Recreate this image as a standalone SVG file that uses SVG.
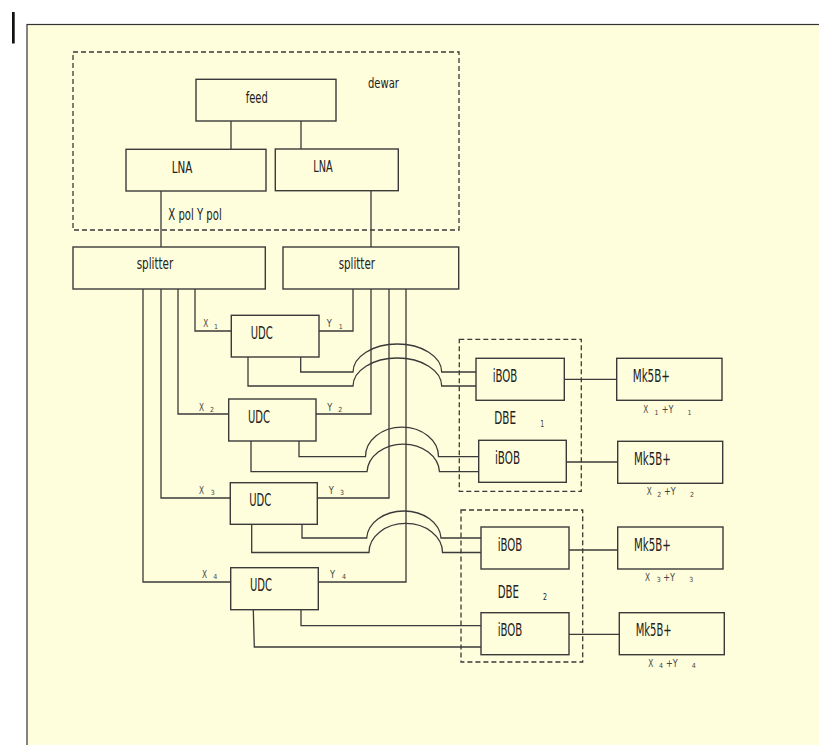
<svg xmlns="http://www.w3.org/2000/svg" width="819" height="745" viewBox="0 0 819 745">
<defs>
<style>
.box{fill:none;stroke:#3a3a3a;stroke-width:1.4}
.dash{fill:none;stroke:#3a3a3a;stroke-width:1.3;stroke-dasharray:5,3}
.ln{fill:none;stroke:#3a3a3a;stroke-width:1.3}
text{font-family:"DejaVu Sans Condensed","DejaVu Sans","Liberation Sans",sans-serif;fill:#222}
.big{font-size:16px}
.sm{font-size:11px;fill:#444}
.xs{font-size:7px;fill:#444}
</style>
</defs>
<rect x="0" y="0" width="819" height="745" fill="#ffffff"/>
<rect x="27" y="24.5" width="810" height="740" fill="#fefddc" stroke="#333" stroke-width="1.2"/>
<rect x="12" y="12" width="2.7" height="31.5" fill="#111"/>

<g id="dewar">
<rect class="dash" x="73" y="52" width="386" height="178"/>
<text class="big" x="368" y="87.5" textLength="31" lengthAdjust="spacingAndGlyphs" style="font-size:14px">dewar</text>
</g>

<g id="connectors">
<path class="ln" d="M231,121 V149"/>
<path class="ln" d="M301,121 V149"/>
<path class="ln" d="M161,191 V247"/>
<path class="ln" d="M371,191 V247"/>
<path class="ln" d="M195,289 V331 H231"/>
<path class="ln" d="M178,289 V414 H229"/>
<path class="ln" d="M161,289 V498 H230"/>
<path class="ln" d="M143,289 V582 H231"/>
<path class="ln" d="M353,289 V331 H319"/>
<path class="ln" d="M371,289 V414 H316"/>
<path class="ln" d="M389,289 V498 H317"/>
<path class="ln" d="M406,289 V582 H318"/>
<path class="ln" d="M300.7,357 V372 H353 A44.3,28 0 0 1 441.7,372 H476"/>
<path class="ln" d="M248,357 V386 H353 A44.3,28 0 0 1 441.7,386 H476"/>
<path class="ln" d="M299,441 V456.7 H365.5 A36.5,29.5 0 0 1 438.5,456.7 H479"/>
<path class="ln" d="M251,441 V471.7 H367 A36.3,29.2 0 0 1 439.5,471.7 H479"/>
<path class="ln" d="M302,524 V538 H366.7 A37.2,28.5 0 0 1 441,538 H481"/>
<path class="ln" d="M251.7,524 V552.5 H369 A36.7,29 0 0 1 442.5,552.5 H481"/>
<path class="ln" d="M301,610 V625.7 H481"/>
<path class="ln" d="M253.3,610 L254.3,647 H481"/>
<path class="ln" d="M564,379.3 H617"/>
<path class="ln" d="M566,462 H618"/>
<path class="ln" d="M569,550 H618"/>
<path class="ln" d="M569,634.3 H619"/>
</g>

<g id="feed">
<rect class="box" x="196" y="79.3" width="140" height="41.7"/>
<text class="big" x="245.7" y="103.3" textLength="22" lengthAdjust="spacingAndGlyphs" style="font-size:15px">feed</text>
</g>
<g id="lna1">
<rect class="box" x="126" y="149.3" width="140" height="41.7"/>
<text class="big" x="171.7" y="172.5" textLength="20.6" lengthAdjust="spacingAndGlyphs" style="font-size:15px">LNA</text>
</g>
<g id="lna2">
<rect class="box" x="275.3" y="149" width="123" height="41.7"/>
<text class="big" x="313.3" y="172" textLength="19.4" lengthAdjust="spacingAndGlyphs" style="font-size:15px">LNA</text>
</g>
<g id="pol-label">
<text class="big" x="168.3" y="220" textLength="53.4" lengthAdjust="spacingAndGlyphs" style="font-size:15.5px">X pol Y pol</text>
</g>

<g id="splitter1">
<rect class="box" x="73" y="247" width="192.3" height="42"/>
<text class="big" x="136.7" y="269.3" textLength="36.6" lengthAdjust="spacingAndGlyphs" style="font-size:16.5px">splitter</text>
</g>
<g id="splitter2">
<rect class="box" x="283" y="247" width="175.7" height="42"/>
<text class="big" x="338.7" y="269.3" textLength="36.3" lengthAdjust="spacingAndGlyphs" style="font-size:16.5px">splitter</text>
</g>

<g id="udc1">
<rect class="box" x="231.3" y="315.3" width="87.7" height="41.7"/>
<text x="250.7" y="338.7" textLength="22" lengthAdjust="spacingAndGlyphs" style="font-size:18.5px">UDC</text>
</g>
<g id="udc2">
<rect class="box" x="228.7" y="399" width="87.3" height="42"/>
<text x="248" y="422.7" textLength="22" lengthAdjust="spacingAndGlyphs" style="font-size:18.5px">UDC</text>
</g>
<g id="udc3">
<rect class="box" x="230.3" y="482.7" width="87" height="41.6"/>
<text x="249.3" y="505.7" textLength="22" lengthAdjust="spacingAndGlyphs" style="font-size:18.5px">UDC</text>
</g>
<g id="udc4">
<rect class="box" x="230.7" y="567.7" width="87.6" height="42"/>
<text x="250" y="590.7" textLength="22" lengthAdjust="spacingAndGlyphs" style="font-size:18.5px">UDC</text>
</g>

<g id="udc-labels">
<text class="sm" x="203.3" y="327" textLength="5" lengthAdjust="spacingAndGlyphs">X</text>
<text class="xs" x="214" y="328.5">1</text>
<text class="sm" x="326.7" y="327" textLength="5" lengthAdjust="spacingAndGlyphs">Y</text>
<text class="xs" x="338.7" y="328.5">1</text>
<text class="sm" x="199" y="410.7" textLength="5" lengthAdjust="spacingAndGlyphs">X</text>
<text class="xs" x="210" y="412.2">2</text>
<text class="sm" x="327.3" y="410.7" textLength="5" lengthAdjust="spacingAndGlyphs">Y</text>
<text class="xs" x="338.3" y="412.2">2</text>
<text class="sm" x="199" y="493.5" textLength="5" lengthAdjust="spacingAndGlyphs">X</text>
<text class="xs" x="210.7" y="495">3</text>
<text class="sm" x="328.7" y="493.5" textLength="5" lengthAdjust="spacingAndGlyphs">Y</text>
<text class="xs" x="340" y="495">3</text>
<text class="sm" x="202" y="577.7" textLength="5" lengthAdjust="spacingAndGlyphs">X</text>
<text class="xs" x="213.3" y="579.2">4</text>
<text class="sm" x="330" y="577.7" textLength="5" lengthAdjust="spacingAndGlyphs">Y</text>
<text class="xs" x="342" y="579.2">4</text>
</g>

<g id="dbe1">
<rect class="dash" x="459.3" y="339.3" width="122" height="152"/>
<text x="494.3" y="424.3" textLength="21.7" lengthAdjust="spacingAndGlyphs" style="font-size:17px">DBE</text>
<text x="540.5" y="426.5" textLength="3.5" lengthAdjust="spacingAndGlyphs" style="font-size:9px">1</text>
</g>
<g id="dbe2">
<rect class="dash" x="461" y="510" width="121.7" height="152"/>
<text x="497.7" y="597.7" textLength="21.3" lengthAdjust="spacingAndGlyphs" style="font-size:17px">DBE</text>
<text x="543" y="600" textLength="4" lengthAdjust="spacingAndGlyphs" style="font-size:9px">2</text>
</g>

<g id="ibob1">
<rect class="box" x="476" y="358.3" width="88.3" height="42"/>
<text x="492.7" y="382.3" textLength="24.6" lengthAdjust="spacingAndGlyphs" style="font-size:17px">iBOB</text>
</g>
<g id="ibob2">
<rect class="box" x="478.7" y="440.3" width="87.6" height="42"/>
<text x="495" y="463.7" textLength="25" lengthAdjust="spacingAndGlyphs" style="font-size:17px">iBOB</text>
</g>
<g id="ibob3">
<rect class="box" x="481" y="527" width="88" height="42"/>
<text x="497.7" y="551" textLength="24.6" lengthAdjust="spacingAndGlyphs" style="font-size:17px">iBOB</text>
</g>
<g id="ibob4">
<rect class="box" x="481" y="612.7" width="88" height="42"/>
<text x="497.7" y="636" textLength="24.6" lengthAdjust="spacingAndGlyphs" style="font-size:17px">iBOB</text>
</g>

<g id="mk1">
<rect class="box" x="616.7" y="358.3" width="105.3" height="42"/>
<text x="632.7" y="382.3" textLength="37.3" lengthAdjust="spacingAndGlyphs" style="font-size:18px">Mk5B+</text>
</g>
<g id="mk2">
<rect class="box" x="617.7" y="441.3" width="105" height="42"/>
<text x="634" y="465" textLength="36.7" lengthAdjust="spacingAndGlyphs" style="font-size:18px">Mk5B+</text>
</g>
<g id="mk3">
<rect class="box" x="617.7" y="527" width="105.3" height="42"/>
<text x="634" y="551" textLength="36.7" lengthAdjust="spacingAndGlyphs" style="font-size:18px">Mk5B+</text>
</g>
<g id="mk4">
<rect class="box" x="619.3" y="612.7" width="105" height="42"/>
<text x="635.7" y="636" textLength="36" lengthAdjust="spacingAndGlyphs" style="font-size:18px">Mk5B+</text>
</g>

<g id="mk-labels">
<text class="sm" x="643.3" y="413.3" textLength="5" lengthAdjust="spacingAndGlyphs">X</text>
<text class="xs" x="654.5" y="415">1</text>
<text class="sm" x="661.7" y="413.3" textLength="11.7" lengthAdjust="spacingAndGlyphs">+Y</text>
<text class="xs" x="687.5" y="415">1</text>
<text class="sm" x="646.7" y="495" textLength="5" lengthAdjust="spacingAndGlyphs">X</text>
<text class="xs" x="657.3" y="496.7">2</text>
<text class="sm" x="664" y="495" textLength="11.7" lengthAdjust="spacingAndGlyphs">+Y</text>
<text class="xs" x="690" y="496.7">2</text>
<text class="sm" x="645" y="580.7" textLength="5" lengthAdjust="spacingAndGlyphs">X</text>
<text class="xs" x="656.7" y="582.4">3</text>
<text class="sm" x="663.3" y="580.7" textLength="11.7" lengthAdjust="spacingAndGlyphs">+Y</text>
<text class="xs" x="689.3" y="582.4">3</text>
<text class="sm" x="648.3" y="666.7" textLength="5" lengthAdjust="spacingAndGlyphs">X</text>
<text class="xs" x="659" y="668.4">4</text>
<text class="sm" x="666" y="666.7" textLength="11.7" lengthAdjust="spacingAndGlyphs">+Y</text>
<text class="xs" x="691.7" y="668.4">4</text>
</g>
</svg>
